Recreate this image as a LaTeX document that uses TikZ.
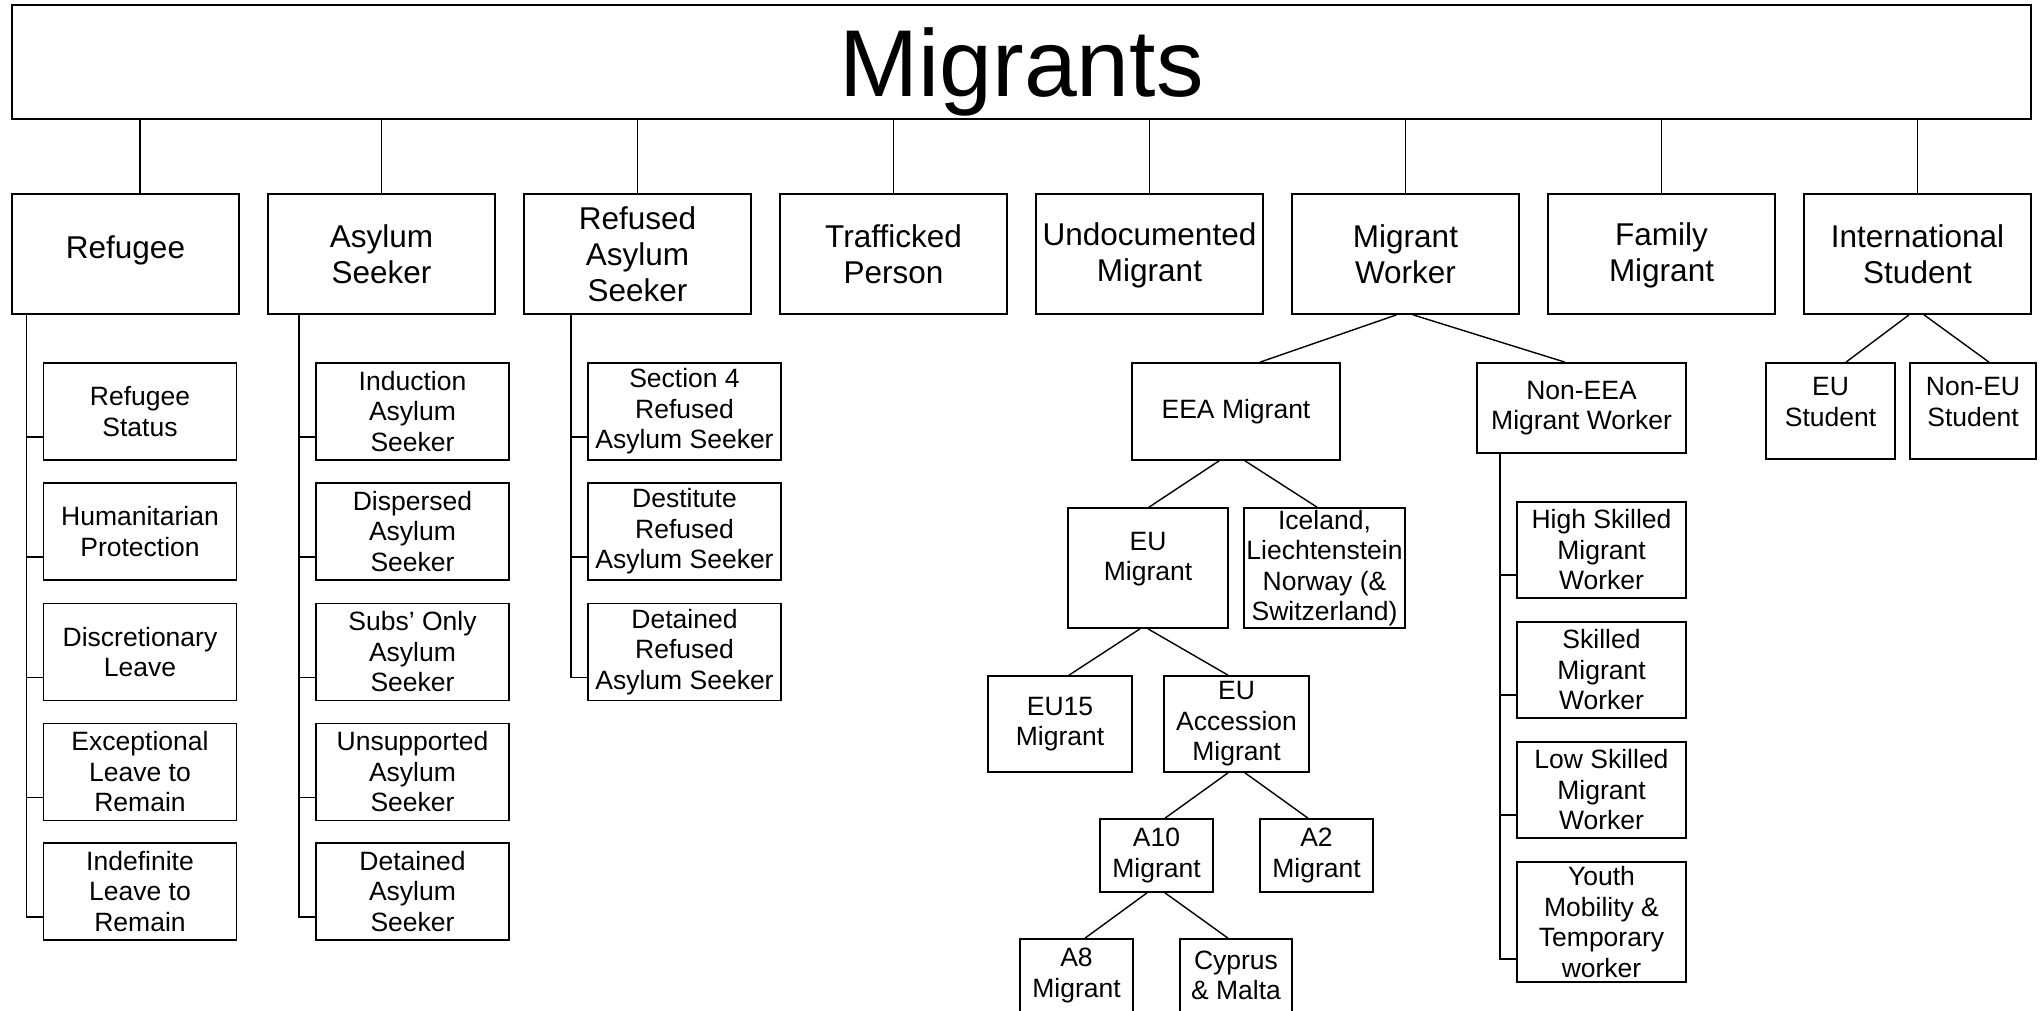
\documentclass[tikz,border=0pt]{standalone}
\usepackage{fontspec}
\setmainfont{Liberation Sans}
\usetikzlibrary{calc}
\begin{document}
\begin{tikzpicture}[x=1pt,y=-1pt,
  box/.style={draw=black,line width=1.7pt,inner sep=0pt,align=center,fill=white},
  lvlbox/.style={box,minimum width=227pt,minimum height=120pt,font=\fontsize{31.5}{36}\selectfont},
  subbox/.style={box,font=\fontsize{26.5}{30.5}\selectfont},
  listbox/.style={subbox,minimum width=193pt,minimum height=97pt},
  conn/.style={draw=black,line width=1.4pt}]
\path[use as bounding box,fill=white] (0,0) rectangle (2040,1010);

% root
\node[box,minimum width=2019pt,minimum height=114pt,text depth=0pt,font=\fontsize{95}{100}\selectfont] (top) at (1021.5,62) {Migrants};

% level 1
\node[lvlbox,text depth=13pt] (refugee) at (125.5,254) {Refugee};
\node[lvlbox] (asylum) at (381.5,254) {Asylum\\Seeker};
\node[lvlbox] (refused) at (637.5,254) {Refused\\Asylum\\Seeker};
\node[lvlbox] (trafficked) at (893.5,254) {Trafficked\\Person};
\node[lvlbox] (undoc) at (1149.5,254) {Undocumented\\Migrant\\[-32pt]\mbox{}};
\node[lvlbox] (mw) at (1405.5,254) {Migrant\\Worker};
\node[lvlbox] (family) at (1661.5,254) {Family\\Migrant\\[-32pt]\mbox{}};
\node[lvlbox] (intl) at (1917.5,254) {International\\Student};

% refugee list
\node[listbox] (rstatus) at (140,411.5) {Refugee\\Status};
\node[listbox] (rhum) at (140,531.5) {Humanitarian\\Protection};
\node[listbox] (rdisc) at (140,652) {Discretionary\\Leave};
\node[listbox] (rexc) at (140,772) {Exceptional\\Leave to\\Remain};
\node[listbox] (rind) at (140,891.5) {Indefinite\\Leave to\\Remain};

% asylum list
\node[listbox] (aind) at (412.5,411.5) {Induction\\Asylum\\Seeker};
\node[listbox] (adisp) at (412.5,531.5) {Dispersed\\Asylum\\Seeker};
\node[listbox] (asubs) at (412.5,652) {Subs’ Only\\Asylum\\Seeker};
\node[listbox] (aunsup) at (412.5,772) {Unsupported\\Asylum\\Seeker};
\node[listbox] (adet) at (412.5,891.5) {Detained\\Asylum\\Seeker};

% refused list
\node[listbox] (fsec) at (684.5,411.5) {Section 4\\Refused\\Asylum Seeker};
\node[listbox] (fdest) at (684.5,531.5) {Destitute\\Refused\\Asylum Seeker};
\node[listbox] (fdet) at (684.5,652) {Detained\\Refused\\Asylum Seeker};

% migrant worker tree
\node[subbox,minimum width=208pt,minimum height=97pt] (eea) at (1236,411.5) {EEA Migrant};
\node[subbox,minimum width=209pt,minimum height=90pt] (noneea) at (1581.5,408) {Non-EEA\\Migrant Worker};
\node[subbox,minimum width=160pt,minimum height=120pt] (eumig) at (1148,568) {EU\\Migrant\\[-7pt]\mbox{}};
\node[subbox,minimum width=161pt,minimum height=120pt] (iceland) at (1324.5,568) {Iceland,\\Liechtenstein\\Norway (\&\\Switzerland)};
\node[subbox,minimum width=144pt,minimum height=96pt] (eu15) at (1060,724) {EU15\\Migrant};
\node[subbox,minimum width=145pt,minimum height=96pt] (euacc) at (1236.5,724) {EU\\Accession\\Migrant};
\node[subbox,minimum width=113pt,minimum height=73pt] (a10) at (1156.5,855.5) {A10\\Migrant};
\node[subbox,minimum width=113pt,minimum height=73pt] (a2) at (1316.5,855.5) {A2\\Migrant};
\node[subbox,minimum width=113pt,minimum height=73pt] (a8) at (1076.5,975.5) {A8\\Migrant};
\node[subbox,minimum width=112pt,minimum height=73pt] (cyprus) at (1236,975.5) {Cyprus\\\& Malta};

% non-EEA list
\node[subbox,minimum width=169pt,minimum height=96pt] (nhigh) at (1601.5,550) {High Skilled\\Migrant\\Worker};
\node[subbox,minimum width=169pt,minimum height=96pt] (nskilled) at (1601.5,670) {Skilled\\Migrant\\Worker};
\node[subbox,minimum width=169pt,minimum height=96pt] (nlow) at (1601.5,790) {Low Skilled\\Migrant\\Worker};
\node[subbox,minimum width=169pt,minimum height=120pt] (nyouth) at (1601.5,922) {Youth\\Mobility \&\\Temporary\\worker};

% students
\node[subbox,minimum width=129pt,minimum height=96pt] (eustud) at (1830.5,411) {EU\\Student\\[-12pt]\mbox{}};
\node[subbox,minimum width=126pt,minimum height=96pt] (noneustud) at (1973,411) {Non-EU\\Student\\[-12pt]\mbox{}};

% connectors from root
\foreach \n in {asylum,refused,trafficked,undoc,mw,family,intl}
  \draw[conn] (\n.north) -- (\n.north |- top.south);
\coordinate (rtop) at ($(refugee.north)+(14.5,0)$);
\draw[conn] (rtop) -- (rtop |- top.south);

% list spines
\coordinate (rsp) at ($(rstatus.west)+(-16,0)$);
\foreach \c in {rstatus,rhum,rdisc,rexc,rind}
  \draw[conn] (rsp |- refugee.south) |- ($(\c.south west)+(0,-24)$);
\coordinate (asp) at ($(aind.west)+(-16,0)$);
\foreach \c in {aind,adisp,asubs,aunsup,adet}
  \draw[conn] (asp |- asylum.south) |- ($(\c.south west)+(0,-24)$);
\coordinate (fsp) at ($(fsec.west)+(-16,0)$);
\foreach \c in {fsec,fdest,fdet}
  \draw[conn] (fsp |- refused.south) |- ($(\c.south west)+(0,-24)$);
\coordinate (nsp) at ($(nhigh.west)+(-16,0)$);
\foreach \c in {nhigh,nskilled,nlow,nyouth}
  \draw[conn] (nsp |- noneea.south) |- ($(\c.south west)+(0,-24)$);

% tree branches
\draw[conn] ($(mw.south)+(-9,0)$) -- ($(eea.north)+(24,0)$);
\draw[conn] ($(mw.south)+(7.5,0)$) -- ($(noneea.north)+(-16.5,0)$);
\draw[conn] ($(eea.south)+(-17,0)$) -- ($(eumig.north)+(1,0)$);
\draw[conn] ($(eea.south)+(9,0)$) -- ($(iceland.north)+(-7.5,0)$);
\draw[conn] ($(eumig.south)+(-8,0)$) -- ($(eu15.north)+(9,0)$);
\draw[conn] (eumig.south) -- ($(euacc.north)+(-8.5,0)$);
\draw[conn] ($(euacc.south)+(-8.5,0)$) -- ($(a10.north)+(8.5,0)$);
\draw[conn] ($(euacc.south)+(8.5,0)$) -- ($(a2.north)+(-8.5,0)$);
\draw[conn] ($(a10.south)+(-9.5,0)$) -- ($(a8.north)+(8.5,0)$);
\draw[conn] ($(a10.south)+(8.5,0)$) -- ($(cyprus.north)+(-8,0)$);
\draw[conn] ($(intl.south)+(-8.5,0)$) -- ($(eustud.north)+(15.5,0)$);
\draw[conn] ($(intl.south)+(6.5,0)$) -- ($(noneustud.north)+(16,0)$);
\end{tikzpicture}
\end{document}
